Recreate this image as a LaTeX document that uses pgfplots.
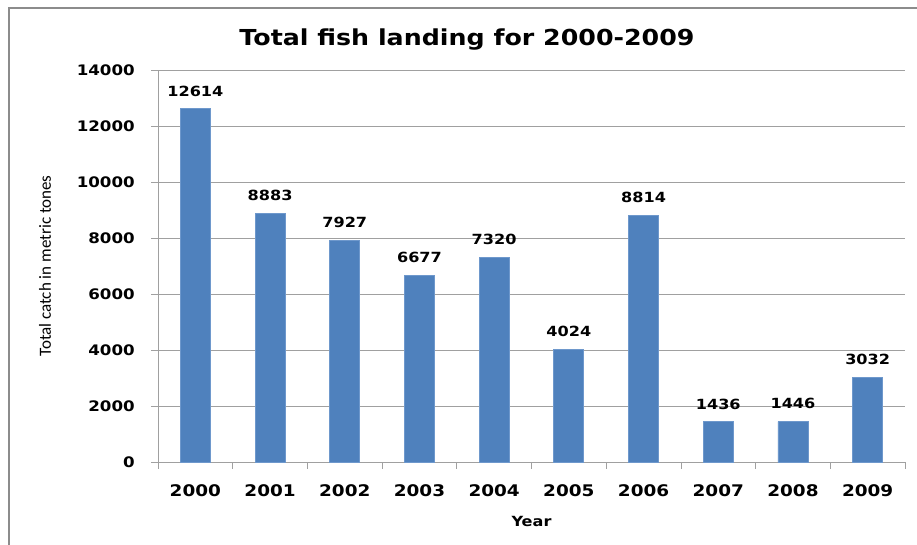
\documentclass[border=0pt]{standalone}
\usepackage{fontspec}
\setmainfont{DejaVu Sans}[FakeStretch=1.15]
\newfontfamily\ylfont{Carlito}
\usepackage{pgfplots}
\pgfplotsset{compat=1.18}
\definecolor{barblue}{HTML}{4F81BD}
\definecolor{baredge}{HTML}{6E98CC}
\definecolor{gridgray}{HTML}{A0A0A0}
\definecolor{framegray}{HTML}{8C8C8C}
\begin{document}
\begin{tikzpicture}[x=1pt,y=1pt]
\useasboundingbox (0,0) rectangle (917,545);
\fill[white] (0,0) rectangle (917,545);
\draw[framegray, line width=1.4pt] (9,0) -- (9,537) -- (917,537);
\begin{axis}[
  at={(158pt,83pt)}, anchor=south west,
  scale only axis, width=747pt, height=392pt,
  xmin=-0.5, xmax=9.5, ymin=0, ymax=14000,
  ytick={0,2000,...,14000},
  scaled y ticks=false,
  xtick={0,...,9},
  xticklabels={2000,2001,2002,2003,2004,2005,2006,2007,2008,2009},
  minor xtick={-0.5,0.5,...,9.5},
  major x tick style={draw=none},
  minor tick length=7pt,
  major tick length=7pt,
  tick align=outside,
  tick pos=left,
  tick style={gridgray, line width=0.8pt},
  axis x line*=bottom, axis y line*=left,
  axis line style={-, gridgray, line width=0.8pt},
  ymajorgrids,
  major grid style={gridgray, line width=0.8pt},
  /pgf/number format/assume math mode=true,
  /pgf/number format/1000 sep={},
  yticklabel style={font=\bfseries\fontsize{14.5}{16}\selectfont, inner sep=0pt, xshift=-16pt},
  xticklabel style={font=\bfseries\fontsize{16}{18}\selectfont, inner sep=0pt, anchor=center, yshift=-22pt},
  title={Total fish landing for 2000-2009},
  title style={font=\bfseries\fontsize{22}{24}\selectfont, at={(0.5,1)}, anchor=center, xshift=-64.5pt, yshift=24pt, inner sep=0pt},
  xlabel={Year},
  xlabel style={font=\bfseries\fontsize{14}{16}\selectfont, at={(rel axis cs:0.5,0)}, anchor=center, yshift=-59pt, inner sep=0pt},
  ylabel={Total catch in metric tones},
  ylabel style={font=\ylfont\fontsize{17}{19}\selectfont, at={(axis description cs:-0.1513,0.5)}, anchor=center, inner sep=0pt},
  clip=false,
]
\addplot[ybar, bar width=30pt, fill=barblue, draw=baredge, line width=0.8pt,
  nodes near coords={\pgfmathprintnumber[1000 sep={},assume math mode=true]{\pgfplotspointmeta}},
  nodes near coords style={font=\bfseries\fontsize{14}{16}\selectfont, anchor=south, inner sep=0pt, yshift=12pt, black}]
  coordinates {(0,12614) (1,8883) (2,7927) (3,6677) (4,7320) (5,4024) (6,8814) (7,1436) (8,1446) (9,3032)};
\end{axis}
\end{tikzpicture}
\end{document}
